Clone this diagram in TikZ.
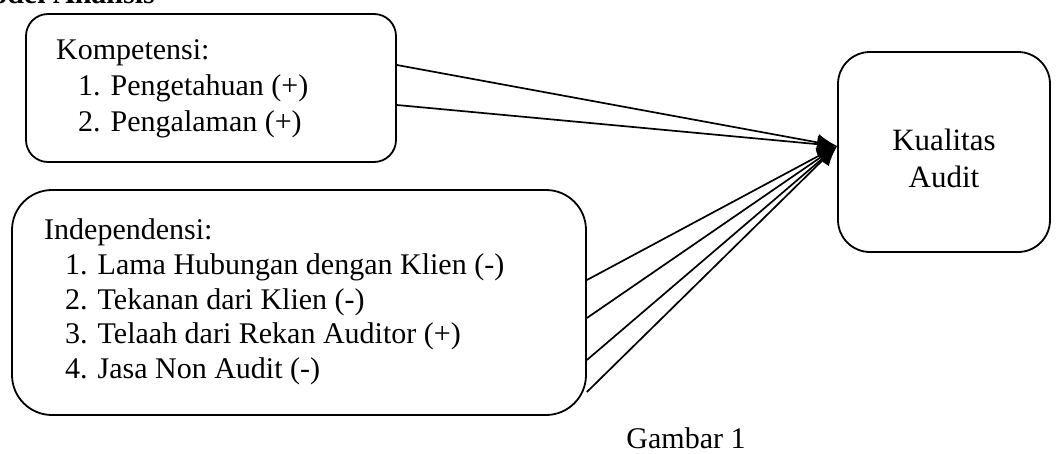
\documentclass[tikz,border=0pt]{standalone}
\usepackage{fontspec}
\setmainfont{Liberation Serif}
\usetikzlibrary{arrows.meta}

\tikzset{
  varbox/.style={draw, line width=1.8pt, inner sep=0pt},
  itemtext/.style={anchor=base west, inner sep=0pt, font=\fontsize{30}{36}\selectfont},
  link/.style={line width=1.7pt, -{Latex[length=20pt,width=17pt]}}
}

\begin{document}
\begin{tikzpicture}[x=1pt,y=-1pt]
  \useasboundingbox (0,0) rectangle (1058,453);
  % judul (terpotong di tepi atas)
  \node[anchor=base east, inner sep=0pt, font=\fontsize{30}{36}\selectfont\bfseries] (judul) at (155,3) {Model Analisis};
  % kotak variabel
  \node[varbox, rounded corners=22pt, minimum width=370pt, minimum height=148pt] (komp) at (211,88) {};
  \node[varbox, rounded corners=40pt, minimum width=574pt, minimum height=225pt] (indep) at (299,302.5) {};
  \node[varbox, rounded corners=32pt, minimum width=212pt, minimum height=200pt] (kual) at (944,152) {};
  % isi kotak kompetensi
  \node[itemtext] (kjudul) at (56,59) {Kompetensi:};
  \node[itemtext] (k1) at (78,95) {1. Pengetahuan (+)};
  \node[itemtext] (k2) at (78,131) {2. Pengalaman (+)};
  % isi kotak independensi
  \node[itemtext] (ijudul) at (44,239) {Independensi:};
  \node[itemtext] (i1) at (65,274) {1. Lama Hubungan dengan Klien (-)};
  \node[itemtext] (i2) at (65,309) {2. Tekanan dari Klien (-)};
  \node[itemtext] (i3) at (65,343) {3. Telaah dari Rekan Auditor (+)};
  \node[itemtext] (i4) at (65,378) {4. Jasa Non Audit (-)};
  % isi kotak kualitas
  \node[align=center, inner sep=0pt, font=\fontsize{31}{37}\selectfont] (kualtext) at (944,158) {Kualitas\\Audit};
  \node[anchor=base, inner sep=0pt, font=\fontsize{30}{36}\selectfont] (gambar) at (686,448) {Gambar 1};
  % titik ujung panah
  \coordinate (tip) at ([yshift=6pt]kual.west);
  \coordinate (ka) at ([yshift=23pt]komp.east);
  \coordinate (kb) at ([yshift=-17pt]komp.east);
  \coordinate (ia) at ([yshift=22.5pt]indep.east);
  \coordinate (ib) at ([yshift=-15.5pt]indep.east);
  \coordinate (ic) at ([yshift=-57.5pt]indep.east);
  \coordinate (id) at ([yshift=-89.5pt]indep.east);
  % panah
  \draw[link] (ka) -- (tip);
  \draw[link] (kb) -- (tip);
  \draw[link] (ia) -- (tip);
  \draw[link] (ib) -- (tip);
  \draw[link] (ic) -- (tip);
  \draw[link] (id) -- (tip);
\end{tikzpicture}
\end{document}
